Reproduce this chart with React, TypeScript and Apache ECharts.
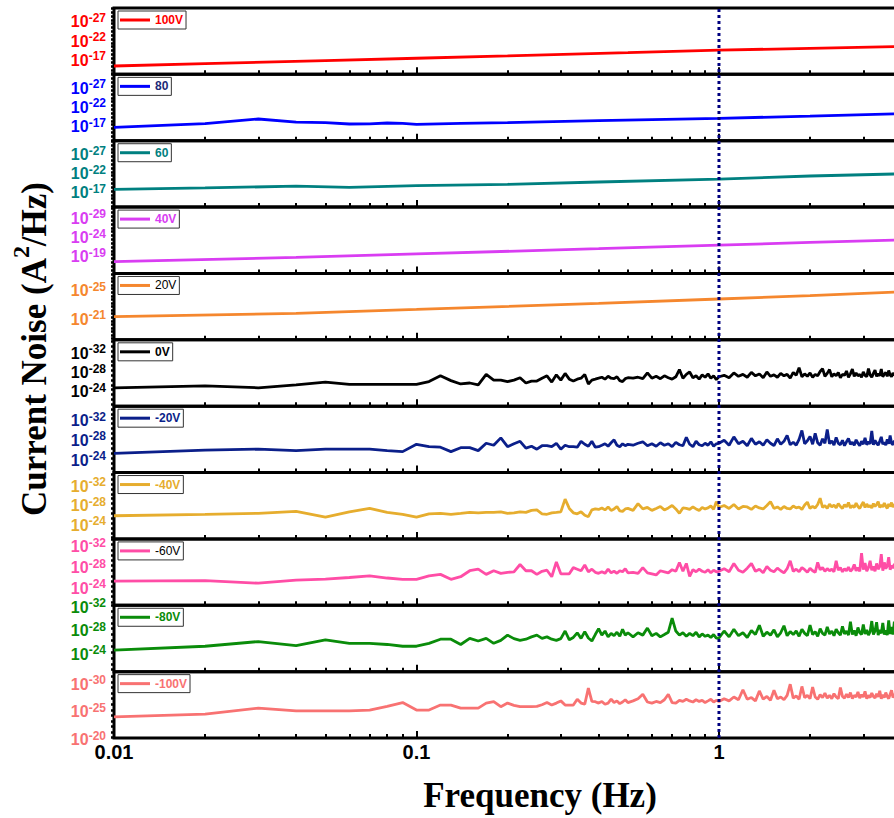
import React, { useEffect, useRef } from "react";
import * as echarts from "echarts";

// ---------------- data (noise values are log10 of A^2/Hz) ----------------
const FREQ_100V_HZ = [0.01, 0.02, 0.05, 0.1, 0.2, 0.5, 1, 2, 3.9];
const NOISE_100V = [-14.98, -15.6, -16.4, -17.0, -17.6, -18.45, -19.1, -19.6, -20.05];

const FREQ_80V_HZ = [0.01, 0.02, 0.03, 0.04, 0.05, 0.06, 0.07, 0.08, 0.09, 0.1, 0.14, 0.2, 0.4, 1, 2, 3.9];
const NOISE_80V = [-16.3, -17.24, -18.46, -17.65, -17.5, -17.16, -17.2, -17.42, -17.3, -17.08, -17.34, -17.5, -18.02, -18.65, -19.2, -19.8];

const FREQ_60V_HZ = [0.01, 0.02, 0.04, 0.06, 0.1, 0.2, 0.4, 1, 2, 3.9];
const NOISE_60V = [-17.44, -17.8, -18.25, -17.96, -18.4, -18.74, -19.34, -20.1, -20.9, -21.45];

const FREQ_40V_HZ = [0.01, 0.04, 0.1, 0.4, 1, 2, 3.9];
const NOISE_40V = [-17.18, -18.32, -19.2, -20.56, -21.5, -22.2, -22.85];

const FREQ_20V_HZ = [0.01, 0.04, 0.1, 0.4, 1, 2, 3.9];
const NOISE_20V = [-21.08, -21.55, -22.1, -22.95, -23.56, -24.04, -24.55];

// measured frequency grid of the noisy spectra: 0.01..0.50 (0.01), 0.52..1.00 (0.02), 1.04..3.88 (0.04)
const NOISE_FREQ_HZ: number[] = [];
for (let k = 1; k <= 50; k++) NOISE_FREQ_HZ.push(k / 100);
for (let k = 26; k <= 50; k++) NOISE_FREQ_HZ.push(k / 50);
for (let k = 26; k <= 97; k++) NOISE_FREQ_HZ.push(k / 25);

const NOISE_0V = [
  -24.4, -24.8, -24.4, -25.0, -25.6, -25.1, -25.1, -25.1, -25.1, -25.1,
  -25.7, -26.9, -25.9, -25.2, -25.4, -25.0, -27.2, -26.0, -26.0, -25.7,
  -26.0, -26.5, -25.4, -25.8, -25.8, -26.4, -26.9, -25.6, -27.1, -26.0,
  -27.4, -26.2, -25.8, -26.2, -26.4, -27.2, -25.2, -26.0, -26.2, -26.4,
  -26.6, -26.2, -26.8, -26.4, -26.3, -26.7, -25.9, -25.7, -26.3, -26.5,
  -26.4, -26.6, -26.3, -27.5, -26.4, -26.8, -26.3, -26.9, -26.5, -26.2,
  -26.7, -28.2, -26.4, -27.2, -27.7, -26.5, -26.9, -26.2, -27.1, -26.6,
  -27.3, -26.4, -26.9, -26.1, -26.7,
  -27.0, -26.5, -27.5, -26.8, -27.2, -26.6, -27.6, -26.9, -27.3, -26.5,
  -27.7, -26.8, -27.1, -26.6, -27.4, -26.9, -27.2, -26.4, -27.6, -27.0,
  -28.6, -26.7, -27.3, -26.8, -27.5, -26.6, -27.2, -26.9, -27.8, -28.4,
  -26.8, -27.4, -28.2, -26.7, -27.3, -26.9, -27.6, -26.5, -27.2, -27.0,
  -27.9, -26.6, -27.3, -28.3, -26.8, -27.5, -26.9, -27.2, -26.6, -27.7,
  -27.0, -26.7, -28.4, -27.1, -26.6, -27.4, -28.1, -26.8, -27.3, -26.9,
  -28.3, -26.7, -27.2, -27.6, -26.8, -28.0, -27.1, -26.7, -27.5, -27.0,
  -27.8, -26.9,
];

const NOISE_M20V = [
  -24.95, -25.6, -25.8, -25.5, -25.8, -25.8, -25.8, -25.5, -25.3, -26.8,
  -26.3, -26.2, -25.3, -26.1, -26.1, -25.5, -27.0, -26.6, -28.1, -26.3,
  -26.9, -27.4, -26.0, -26.4, -25.8, -26.5, -26.5, -26.3, -27.0, -25.8,
  -26.6, -26.3, -26.3, -26.2, -27.4, -26.8, -26.4, -27.4, -26.2, -26.3,
  -26.6, -26.9, -26.4, -27.1, -27.7, -26.6, -26.3, -26.9, -26.5, -26.8,
  -26.6, -27.0, -27.3, -26.5, -26.9, -26.4, -27.1, -26.6, -26.9, -26.3,
  -27.2, -26.7, -26.5, -28.2, -26.8, -26.3, -27.4, -26.7, -26.5, -27.0,
  -26.6, -27.3, -26.4, -26.9, -27.0,
  -27.6, -26.6, -28.3, -26.9, -27.4, -26.5, -28.0, -26.8, -27.3, -26.6,
  -27.7, -27.0, -26.5, -27.9, -26.8, -27.4, -28.6, -26.7, -27.2, -26.6,
  -27.8, -29.6, -26.9, -27.5, -28.4, -26.8, -29.0, -27.1, -26.6, -27.9,
  -27.0, -29.8, -26.9, -27.5, -26.6, -28.2, -27.0, -26.7, -27.6, -26.5,
  -27.3, -28.0, -26.8, -27.2, -26.6, -27.7, -27.0, -26.5, -27.4, -26.8,
  -28.1, -26.7, -27.3, -26.9, -29.5, -26.7, -27.6, -27.0, -26.6, -27.4,
  -28.3, -26.8, -27.2, -26.6, -27.8, -26.9, -28.6, -27.0, -26.7, -27.5,
  -26.9, -27.3,
];

const NOISE_M40V = [
  -25.5, -25.8, -26.0, -26.4, -25.2, -26.3, -27.0, -26.2, -25.8, -25.2,
  -25.9, -26.0, -25.8, -26.0, -26.2, -26.1, -26.2, -26.2, -26.3, -26.0,
  -26.1, -26.3, -26.2, -26.6, -26.7, -25.9, -25.8, -26.1, -26.2, -26.3,
  -28.9, -27.0, -26.1, -25.9, -26.3, -25.6, -25.3, -26.7, -26.9, -26.8,
  -27.1, -26.7, -27.3, -26.6, -26.9, -27.4, -26.5, -26.4, -26.9, -27.0,
  -26.6, -28.0, -26.9, -27.2, -26.6, -27.0, -27.4, -26.7, -27.1, -27.6,
  -26.9, -26.0, -27.1, -27.0, -26.8, -27.3, -26.9, -26.6, -27.2, -26.9,
  -27.1, -27.5, -26.8, -28.4, -27.2,
  -27.6, -27.0, -27.8, -26.9, -27.4, -27.3, -26.8, -27.5, -27.1, -26.9,
  -27.6, -28.4, -27.0, -27.3, -26.8, -27.4, -27.0, -26.9, -27.5, -27.1,
  -27.3, -26.8, -27.7, -28.3, -27.0, -27.4, -27.1, -27.8, -29.1, -27.2,
  -27.6, -27.0, -27.9, -27.3, -27.7, -27.1, -28.0, -27.4, -27.0, -27.8,
  -27.3, -28.2, -27.1, -27.6, -27.2, -28.1, -27.4, -27.0, -27.7, -28.3,
  -27.2, -27.9, -27.3, -27.6, -27.1, -28.0, -27.4, -27.8, -28.4, -27.2,
  -27.7, -27.3, -28.1, -27.5, -27.0, -27.9, -27.4, -28.2, -27.3, -27.8,
  -27.2, -27.9,
];

const NOISE_M60V = [
  -25.0, -25.1, -24.6, -25.2, -25.4, -25.7, -26.0, -25.6, -25.35, -25.35,
  -26.0, -26.3, -25.35, -25.85, -27.0, -27.3, -26.3, -27.0, -26.5, -26.7,
  -26.8, -28.2, -27.0, -27.0, -26.3, -26.9, -27.1, -25.85, -28.7, -26.4,
  -26.4, -26.4, -27.6, -27.3, -27.0, -28.1, -26.8, -27.3, -26.7, -26.5,
  -26.8, -26.5, -27.3, -26.6, -26.9, -26.5, -27.0, -26.8, -27.4, -26.6,
  -26.7, -26.5, -27.6, -26.6, -26.4, -26.2, -27.0, -26.8, -26.6, -27.2,
  -26.9, -28.6, -26.9, -28.4, -25.9, -27.2, -26.8, -27.3, -26.9, -26.7,
  -27.2, -26.6, -27.1, -26.8, -26.9,
  -27.4, -26.8, -28.4, -27.1, -26.7, -27.5, -28.4, -26.9, -27.3, -26.6,
  -27.8, -27.1, -26.8, -27.5, -27.0, -26.6, -27.4, -28.9, -26.9, -27.3,
  -26.8, -27.6, -27.2, -26.7, -27.5, -27.0, -26.7, -28.6, -27.2, -27.6,
  -26.9, -27.4, -27.0, -27.3, -26.8, -28.9, -27.1, -27.6, -26.8, -27.4,
  -27.0, -27.7, -26.9, -27.3, -28.2, -27.0, -27.6, -26.9, -30.4, -27.2,
  -28.5, -26.9, -27.6, -28.9, -27.1, -27.8, -26.9, -28.4, -27.3, -27.8,
  -30.2, -27.0, -28.6, -27.4, -27.9, -29.6, -27.2, -28.0, -27.5, -28.3,
  -27.1, -27.8,
];

const NOISE_M80V = [
  -24.35, -25.0, -25.8, -25.1, -26.1, -25.5, -25.5, -25.3, -25.0, -25.0,
  -25.5, -26.2, -26.2, -25.3, -26.35, -25.9, -26.35, -25.5, -26.0, -26.9,
  -26.3, -26.0, -26.2, -26.6, -26.9, -26.35, -26.6, -26.2, -26.0, -26.3,
  -27.6, -26.1, -26.5, -27.3, -26.35, -27.5, -26.4, -25.9, -27.0, -28.0,
  -26.9, -27.6, -26.6, -27.2, -26.8, -27.4, -26.7, -27.9, -26.9, -27.3,
  -26.6, -27.3, -26.9, -28.1, -26.8, -27.2, -26.6, -27.0, -27.4, -29.8,
  -27.6, -26.9, -27.3, -26.7, -27.2, -26.8, -27.4, -26.6, -27.1, -26.7,
  -26.9, -26.5, -27.0, -26.4, -26.4,
  -27.6, -26.6, -27.9, -26.8, -27.3, -26.5, -27.7, -27.0, -28.6, -26.7,
  -27.4, -26.9, -27.8, -26.6, -27.3, -28.5, -26.8, -27.5, -27.0, -27.6,
  -26.7, -27.9, -27.2, -26.8, -28.6, -27.0, -27.5, -26.7, -28.0, -27.2,
  -26.9, -28.3, -27.1, -27.6, -26.8, -27.9, -27.3, -26.9, -28.4, -27.1,
  -27.6, -26.9, -29.2, -27.0, -27.7, -26.8, -28.2, -27.3, -27.0, -28.7,
  -27.1, -27.8, -26.9, -27.5, -29.3, -27.0, -27.6, -29.1, -26.9, -27.8,
  -27.2, -29.0, -27.0, -27.7, -26.9, -29.4, -27.1, -28.3, -27.0, -29.2,
  -27.3, -28.8,
];

const NOISE_M100V = [
  -23.7, -24.2, -25.3, -24.8, -24.8, -24.8, -24.95, -25.6, -26.3, -24.95,
  -24.95, -25.85, -25.85, -25.3, -25.3, -25.3, -26.2, -26.45, -25.55, -26.2,
  -25.8, -25.55, -25.55, -25.55, -25.6, -25.9, -26.3, -25.85, -26.2, -26.6,
  -25.85, -25.85, -25.85, -26.9, -26.2, -26.0, -28.9, -26.5, -26.45, -26.2,
  -26.5, -26.0, -26.2, -26.9, -26.3, -26.6, -26.1, -26.4, -26.8, -26.3,
  -26.6, -27.0, -27.8, -26.4, -26.2, -26.5, -26.3, -26.8, -27.8, -26.3,
  -26.2, -26.7, -26.5, -26.9, -26.6, -26.4, -26.8, -26.5, -26.7, -26.3,
  -26.6, -26.9, -26.4, -26.7, -26.5,
  -27.0, -26.6, -27.3, -26.8, -28.6, -26.9, -27.2, -26.6, -28.4, -26.9,
  -27.4, -26.7, -28.5, -27.0, -27.3, -26.8, -27.6, -29.6, -27.1, -27.5,
  -26.9, -29.2, -27.2, -27.6, -27.0, -29.1, -27.3, -26.9, -27.7, -27.2,
  -28.0, -27.1, -27.6, -27.0, -27.9, -27.3, -27.0, -29.0, -27.4, -27.1,
  -27.8, -27.2, -28.1, -27.0, -27.6, -27.3, -28.2, -27.1, -27.7, -27.3,
  -28.3, -27.0, -27.6, -27.2, -28.0, -27.4, -27.1, -27.9, -27.3, -28.4,
  -27.0, -27.7, -27.2, -28.1, -27.4, -27.0, -27.8, -28.5, -27.2, -27.6,
  -28.0, -27.3,
];

// tick labels (exponents of 10) per panel
const Y_LABELS_100V = [-27, -22, -17];
const Y_LABELS_80V = [-27, -22, -17];
const Y_LABELS_60V = [-27, -22, -17];
const Y_LABELS_40V = [-29, -24, -19];
const Y_LABELS_20V = [-25, -21];
const Y_LABELS_0V = [-32, -28, -24];
const Y_LABELS_M20V = [-32, -28, -24];
const Y_LABELS_M40V = [-32, -28, -24];
const Y_LABELS_M60V = [-32, -28, -24];
const Y_LABELS_M80V = [-32, -28, -24];
const Y_LABELS_M100V = [-30, -25, -20];

const X_LABELS_HZ = [0.01, 0.1, 1];
const X_MAJOR_TICKS_HZ = [0.1, 1];
const X_MINOR_TICKS_HZ = [0.02, 0.03, 0.04, 0.05, 0.06, 0.07, 0.08, 0.09, 0.2, 0.3, 0.4, 0.5, 0.6, 0.7, 0.8, 0.9, 2, 3];
const REF_LINE_HZ = 1;
const X_MIN_HZ = 0.01;
const X_MAX_HZ = 3.907;

// ---------------- layout / style ----------------
const SANS = "'Liberation Sans', Arial, sans-serif";
const SERIF = "'Liberation Serif', 'Times New Roman', serif";
const PLOT_LEFT = 114;
const PLOT_RIGHT = -4;
const PLOT_TOP = 8;
const PLOT_BOTTOM = 738;
const LINE_W = 2.8;

interface Panel {
  name: string;
  color: string;
  legendColor: string;
  legendBold: boolean;
  yMin: number;
  yMax: number;
  yTickStep: number;
  yLabels: number[];
  freq: number[];
  values: number[];
}

const PANELS: Panel[] = [
  { name: "100V", color: "#ff0000", legendColor: "#ff0000", legendBold: true, yMin: -30.1, yMax: -12.8, yTickStep: 1, yLabels: Y_LABELS_100V, freq: FREQ_100V_HZ, values: NOISE_100V },
  { name: "80", color: "#0000ff", legendColor: "#1c2a78", legendBold: true, yMin: -30.1, yMax: -12.8, yTickStep: 1, yLabels: Y_LABELS_80V, freq: FREQ_80V_HZ, values: NOISE_80V },
  { name: "60", color: "#008080", legendColor: "#008080", legendBold: true, yMin: -30.1, yMax: -12.8, yTickStep: 1, yLabels: Y_LABELS_60V, freq: FREQ_60V_HZ, values: NOISE_60V },
  { name: "40V", color: "#d93df2", legendColor: "#d93df2", legendBold: true, yMin: -31.4, yMax: -14.12, yTickStep: 1, yLabels: Y_LABELS_40V, freq: FREQ_40V_HZ, values: NOISE_40V },
  { name: "20V", color: "#f5872e", legendColor: "#000000", legendBold: false, yMin: -27.13, yMax: -17.85, yTickStep: 0.5, yLabels: Y_LABELS_20V, freq: FREQ_20V_HZ, values: NOISE_20V },
  { name: "0V", color: "#000000", legendColor: "#000000", legendBold: true, yMin: -34.4, yMax: -20.57, yTickStep: 1, yLabels: Y_LABELS_0V, freq: NOISE_FREQ_HZ, values: NOISE_0V },
  { name: "-20V", color: "#0b1f8a", legendColor: "#0b1f8a", legendBold: true, yMin: -34.55, yMax: -21.04, yTickStep: 1, yLabels: Y_LABELS_M20V, freq: NOISE_FREQ_HZ, values: NOISE_M20V },
  { name: "-40V", color: "#e6ad2e", legendColor: "#e6ad2e", legendBold: true, yMin: -34.36, yMax: -20.75, yTickStep: 1, yLabels: Y_LABELS_M40V, freq: NOISE_FREQ_HZ, values: NOISE_M40V },
  { name: "-60V", color: "#ff4da6", legendColor: "#000000", legendBold: false, yMin: -33.12, yMax: -20.36, yTickStep: 1, yLabels: Y_LABELS_M60V, freq: NOISE_FREQ_HZ, values: NOISE_M60V },
  { name: "-80V", color: "#0a8c0a", legendColor: "#0a8c0a", legendBold: true, yMin: -32, yMax: -20.66, yTickStep: 1, yLabels: Y_LABELS_M80V, freq: NOISE_FREQ_HZ, values: NOISE_M80V },
  { name: "-100V", color: "#f87272", legendColor: "#f87272", legendBold: true, yMin: -31.87, yMax: -19.91, yTickStep: 1, yLabels: Y_LABELS_M100V, freq: NOISE_FREQ_HZ, values: NOISE_M100V },
];

function decadeTicks(min: number, max: number, step: number): number[] {
  const out: number[] = [];
  for (let v = Math.ceil(min / step) * step; v <= max + 1e-9; v += step) out.push(Number(v.toFixed(3)));
  return out;
}

function buildOption() {
  const xMin = Math.log10(X_MIN_HZ);
  const xMax = Math.log10(X_MAX_HZ);
  const minorLog = X_MINOR_TICKS_HZ.map((f) => Math.log10(f));
  const majorLog = X_MAJOR_TICKS_HZ.map((f) => Math.log10(f));
  const labelLog = X_LABELS_HZ.map((f) => Math.log10(f));
  const panelH = (PLOT_BOTTOM - PLOT_TOP) / PANELS.length;

  const grid: any[] = [];
  const xAxis: any[] = [];
  const yAxis: any[] = [];
  const series: any[] = [];
  const legend: any[] = [];

  PANELS.forEach((p, i) => {
    const top = PLOT_TOP + i * panelH;
    const isLast = i === PANELS.length - 1;
    grid.push({
      left: PLOT_LEFT,
      right: PLOT_RIGHT,
      top,
      height: panelH,
      show: true,
      borderColor: "#000",
      borderWidth: 3,
      backgroundColor: "rgba(0,0,0,0)",
      containLabel: false,
      outerBoundsMode: "none",
    });
    xAxis.push({
      gridIndex: i,
      type: "value",
      min: xMin,
      max: xMax,
      position: "bottom",
      axisLine: { show: false, onZero: false },
      splitLine: { show: false },
      axisTick: { show: true, inside: true, length: 4, lineStyle: { color: "#000", width: 2 }, customValues: minorLog },
      axisLabel: isLast
        ? {
            show: true,
            customValues: labelLog,
            formatter: (v: number) => String(Number(Math.pow(10, v).toPrecision(2))),
            fontSize: 20,
            fontWeight: "bold",
            fontFamily: SANS,
            color: "#000",
            margin: 4,
          }
        : { show: false },
    });
    xAxis.push({
      gridIndex: i,
      type: "value",
      min: xMin,
      max: xMax,
      position: "bottom",
      axisLine: { show: false, onZero: false },
      splitLine: { show: false },
      axisTick: { show: true, inside: true, length: 7, lineStyle: { color: "#000", width: 2 }, customValues: majorLog },
      axisLabel: { show: false },
    });
    yAxis.push({
      gridIndex: i,
      type: "value",
      inverse: true,
      min: p.yMin,
      max: p.yMax,
      axisLine: { show: false, onZero: false },
      splitLine: { show: false },
      axisTick: {
        show: true,
        inside: false,
        length: 3,
        lineStyle: { color: "#000", width: 2.5 },
        customValues: decadeTicks(p.yMin, p.yMax, p.yTickStep),
      },
      axisLabel: {
        show: true,
        customValues: p.yLabels,
        margin: 8,
        padding: [4, 0, 0, 0],
        formatter: (v: number) => `{b|10}{s|${v}}`,
        rich: {
          b: { fontSize: 16, fontWeight: "bold", fontFamily: SANS, color: p.color, lineHeight: 20 },
          s: { fontSize: 12, fontWeight: "bold", fontFamily: SANS, color: p.color, lineHeight: 10, verticalAlign: "top" },
        },
      },
    });
    series.push({
      type: "line",
      name: p.name,
      xAxisIndex: 2 * i,
      yAxisIndex: i,
      data: p.freq.map((f, k) => [Math.log10(f), p.values[k]]),
      symbol: "none",
      showSymbol: false,
      color: p.color,
      itemStyle: { color: p.color },
      lineStyle: { color: p.color, width: LINE_W },
      silent: true,
      z: 3,
    });
    legend.push({
      show: true,
      data: [p.name],
      left: 118,
      top: top + 3,
      orient: "horizontal",
      icon: "rect",
      itemWidth: 30,
      itemHeight: 3,
      itemGap: 0,
      padding: [2, 3, 2, 2],
      borderColor: "#333",
      borderWidth: 1,
      borderRadius: 0,
      backgroundColor: "#fff",
      selectedMode: false,
      textStyle: {
        color: p.legendColor,
        fontSize: 12,
        fontWeight: p.legendBold ? "bold" : "normal",
        fontFamily: SANS,
        lineHeight: 14,
      },
    });
  });

  // overlay grid for the dotted reference line at 1 Hz
  const ovIdx = PANELS.length;
  grid.push({ left: PLOT_LEFT, right: PLOT_RIGHT, top: PLOT_TOP, height: PLOT_BOTTOM - PLOT_TOP, show: false, containLabel: false, outerBoundsMode: "none" });
  xAxis.push({ gridIndex: ovIdx, type: "value", min: xMin, max: xMax, show: false });
  yAxis.push({ gridIndex: ovIdx, type: "value", min: 0, max: 1, show: false });
  series.push({
    type: "line",
    xAxisIndex: 2 * PANELS.length,
    yAxisIndex: ovIdx,
    data: [
      [Math.log10(REF_LINE_HZ), 0],
      [Math.log10(REF_LINE_HZ), 1],
    ],
    symbol: "none",
    lineStyle: { color: "#00007f", width: 3, type: [3, 3] },
    silent: true,
    z: 6,
  });

  return {
    animation: false,
    backgroundColor: "#fff",
    grid,
    xAxis,
    yAxis,
    series,
    legend,
    graphic: [
      {
        type: "text",
        x: 34,
        y: 349,
        rotation: Math.PI / 2,
        silent: true,
        style: {
          text: "{m|Current Noise (A}{sup|2}{m|/Hz)}",
          align: "center",
          verticalAlign: "middle",
          fill: "#000",
          rich: {
            m: { fontSize: 35, fontWeight: "bold", fontFamily: SERIF, fill: "#000", lineHeight: 50 },
            sup: { fontSize: 24, fontWeight: "bold", fontFamily: SERIF, fill: "#000", lineHeight: 14, verticalAlign: "top" },
          },
        },
      },
      {
        type: "text",
        x: 540,
        y: 795,
        silent: true,
        style: {
          text: "Frequency (Hz)",
          fontSize: 35,
          fontWeight: "bold",
          fontFamily: SERIF,
          fill: "#000",
          align: "center",
          verticalAlign: "middle",
        },
      },
    ],
  };
}

export default function App() {
  const ref = useRef<HTMLDivElement>(null);
  useEffect(() => {
    if (!ref.current) return;
    const chart = echarts.init(ref.current, null, { renderer: "svg" });
    chart.setOption(buildOption() as any);
    return () => chart.dispose();
  }, []);
  return (
    <div
      ref={ref}
      style={{ position: "fixed", left: 0, top: 0, width: 894, height: 818, background: "#fff" }}
    />
  );
}
